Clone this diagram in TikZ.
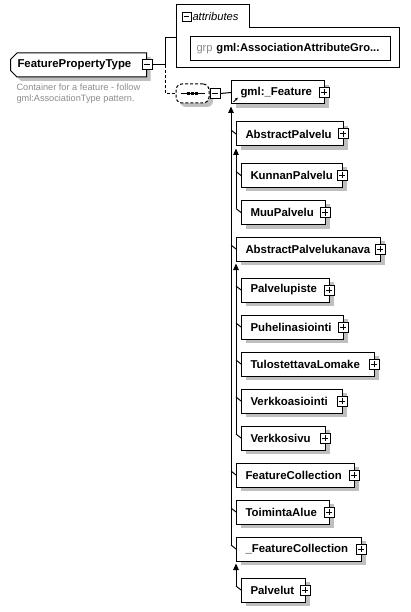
\documentclass[tikz,border=0pt]{standalone}
\usepackage{fontspec}
\setmainfont{Liberation Sans}
\usetikzlibrary{shapes.misc,shadows,arrows.meta,calc}

\tikzset{
  shade4/.style={drop shadow={shadow xshift=4pt,shadow yshift=-4pt,fill=black!25,opacity=1}},
  elem/.style={draw,fill=white,anchor=west,align=left,minimum height=24,
    inner xsep=9,inner ysep=0,shade4,font=\fontsize{11.4}{13}\selectfont\bfseries},
  pm/.style={draw,fill=white,minimum size=10,inner sep=0},
  plus/.style={pm,path picture={
    \draw ([xshift=2pt]path picture bounding box.west) -- ([xshift=-2pt]path picture bounding box.east)
          ([yshift=-2pt]path picture bounding box.north) -- ([yshift=2pt]path picture bounding box.south);}},
  minus/.style={pm,path picture={
    \draw ([xshift=2pt]path picture bounding box.west) -- ([xshift=-2pt]path picture bounding box.east);}},
  inh/.style={arrows={Triangle[length=6.5pt,width=5.5pt]-}},
  dash3/.style={dash pattern=on 3pt off 2pt},
  descr/.style={text=black!45,align=left,inner sep=0,font=\fontsize{9.2}{11}\selectfont}
}

\begin{document}
\begin{tikzpicture}[x=1pt,y=-1pt,line width=1pt]
  \useasboundingbox (0,0) rectangle (410,612);

  % the complex type
  \node[elem,chamfered rectangle,chamfered rectangle corners={north west,south west},
        chamfered rectangle xsep=3pt,inner xsep=4,text width=122pt] (fpt) at (10,65) {FeaturePropertyType};
  \node[minus] (fpt-m) at (fpt.east) {};
  \node[descr,anchor=north west] (fpt-doc) at (16,83)
    {Container for a feature - follow\\gml:AssociationType pattern.};

  % attributes
  \draw (176,5) -- (249,5) -- (249,28) -- (399,28) -- (399,68) -- (176,68) -- cycle;
  \coordinate (attr) at (176,38);
  \node[minus,minimum size=9] (attr-m) at (186.5,17) {};
  \node[anchor=west,inner sep=0,font=\fontsize{11.2}{13}\selectfont\itshape] (attr-t) at (192,17) {attributes};
  \node[draw,anchor=west,minimum width=200,minimum height=24,inner xsep=6,text width=188pt,
        font=\fontsize{11.2}{13}\selectfont] (grp) at (190,49)
    {\textcolor{black!45}{grp} \textbf{gml:AssociationAttributeGro...}};

  % sequence
  \node[draw,dash3,fill=white,rounded corners=6,minimum width=33,minimum height=19,shade4] (seq) at (192.5,93.5) {};
  \draw ([xshift=5pt]seq.west) -- ([xshift=-5pt]seq.east);
  \foreach \d in {-4,0,4}
    \fill ([xshift=\d pt]seq.center) +(-1.5,-1.5) rectangle +(1.5,1.5);
  \node[minus] (seq-m) at (215,93.5) {};

  \draw (fpt-m.east) -- ++(13,0) |- (attr);
  \draw[dash3] ([xshift=13pt]fpt-m.east) |- (seq.west);

  % the element
  \node[elem,minimum height=23,text width=75pt] (feat) at (231,92.5) {gml:\_Feature};
  \node[plus] (feat-p) at ([xshift=-1pt]feat.east) {};
  \draw[line width=0.9pt,-{Latex[length=3pt,width=3pt]}] ([shift={(2.5,-2.5)}]feat.south west) -- ++(4.5,-4.5);
  \draw (seq-m.east) -- (feat.west);

  % substitution group
  \foreach \n/\y/\w/\t in {
    ap/134/89pt/AbstractPalvelu, apk/249/126pt/AbstractPalvelukanava,
    fc/475/100pt/FeatureCollection, ta/512/75pt/ToimintaAlue,
    fc2/549/107pt/\_FeatureCollection
  }{
    \node[elem,text width=\w] (\n) at (236,\y) {\t};
    \node[plus] (\n-p) at ([xshift=-1pt]\n.east) {};
    \draw ($(\n.west)+(-5,-4)$) -- (\n.west);
  }
  \foreach \n/\y/\w/\t in {
    kp/175.5/83pt/KunnanPalvelu, mp/212.5/66pt/MuuPalvelu,
    pp/290/70pt/Palvelupiste, ph/327/84pt/Puhelinasiointi,
    tl/364/115pt/TulostettavaLomake, va/401/83pt/Verkkoasiointi,
    vs/438/66pt/Verkkosivu, pl/590/46pt/Palvelut
  }{
    \node[elem,text width=\w] (\n) at (241,\y) {\t};
    \node[plus] (\n-p) at ([xshift=-1pt]\n.east) {};
    \draw ($(\n.west)+(-5,-4)$) -- (\n.west);
  }

  \draw[inh] ([yshift=-2pt]feat.south west) -- ($(fc2.west)+(-5,-4)$);
  \draw[inh] ([yshift=-2pt]ap.south west) -- ($(mp.west)+(-5,-4)$);
  \draw[inh] ([yshift=-2pt]apk.south west) -- ($(vs.west)+(-5,-4)$);
  \draw[inh] ([yshift=-2pt]fc2.south west) -- ($(pl.west)+(-5,-4)$);
\end{tikzpicture}
\end{document}
